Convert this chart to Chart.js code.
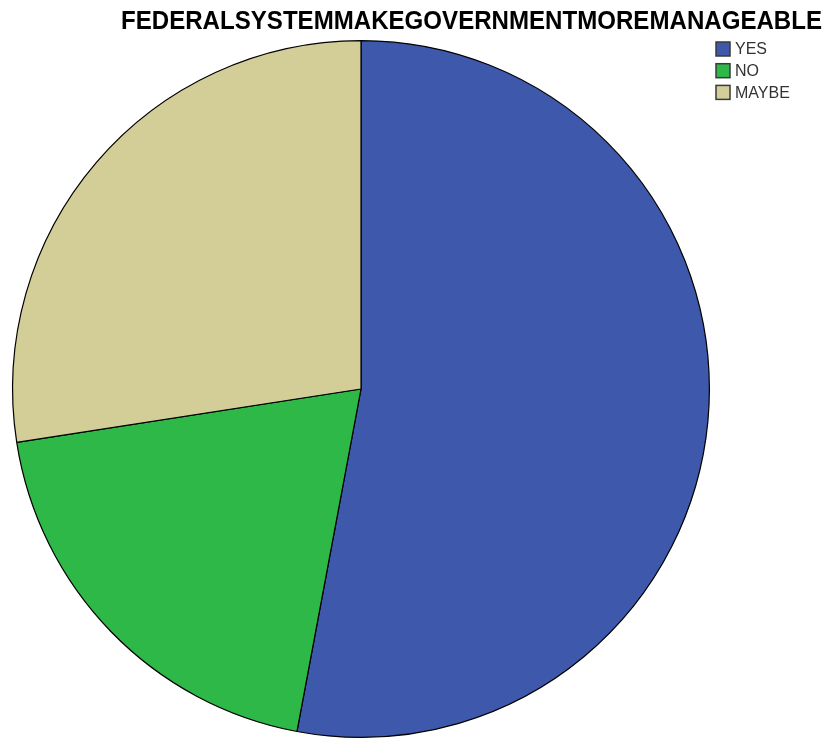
<!DOCTYPE html>
<html lang="en">
  <head>
    <meta charset="UTF-8" />
    <script src="https://cdn.jsdelivr.net/npm/chart.js"></script>
    <style>
      body { margin: 0; background: #fff; }
      #mainChart { width: 832px; height: 740px; }
    </style>
  </head>
  <body>
    <div id="mainChart">
      <canvas id="myChart"></canvas>
    </div>

    <script>
      const titleText = "FEDERALSYSTEMMAKEGOVERNMENTMOREMANAGEABLE";
      const categories = ["YES", "NO", "MAYBE"];
      const counts = [54, 20, 28];
      const colors = ["#3e58ac", "#2eb848", "#d3ce97"];

      // title and legend drawn by hand, SPSS style
      const spssDecor = {
        id: "spssDecor",
        afterDraw(chart) {
          const c = chart.ctx;
          c.save();
          c.fillStyle = "#000";
          c.font = "bold 26px 'Liberation Sans', Arial, sans-serif";
          c.textBaseline = "alphabetic";
          c.textAlign = "left";
          c.fillText(titleText, 121, 29, 701);

          c.font = "16px 'Liberation Sans', Arial, sans-serif";
          c.textBaseline = "middle";
          categories.forEach((label, i) => {
            const y = 49 + i * 21.7;
            c.fillStyle = colors[i];
            c.fillRect(716, y - 7, 14, 14);
            c.strokeStyle = "#3a3a3a";
            c.lineWidth = 1.5;
            c.strokeRect(716, y - 7, 14, 14);
            c.fillStyle = "#333";
            c.fillText(label, 735, y + 1);
          });
          c.restore();
        },
      };

      const ctx = document.getElementById("myChart");
      const myChart = new Chart(ctx, {
        type: "pie",
        data: {
          labels: categories,
          datasets: [
            {
              data: counts,
              backgroundColor: colors,
              borderColor: "#000",
              borderWidth: 1.2,
            },
          ],
        },
        options: {
          responsive: true,
          maintainAspectRatio: false,
          animation: false,
          layout: { padding: { left: 12, top: 40, right: 122, bottom: 2 } },
          plugins: {
            legend: { display: false },
            title: { display: false },
            tooltip: { enabled: false },
          },
        },
        plugins: [spssDecor],
      });
    </script>
  </body>
</html>
